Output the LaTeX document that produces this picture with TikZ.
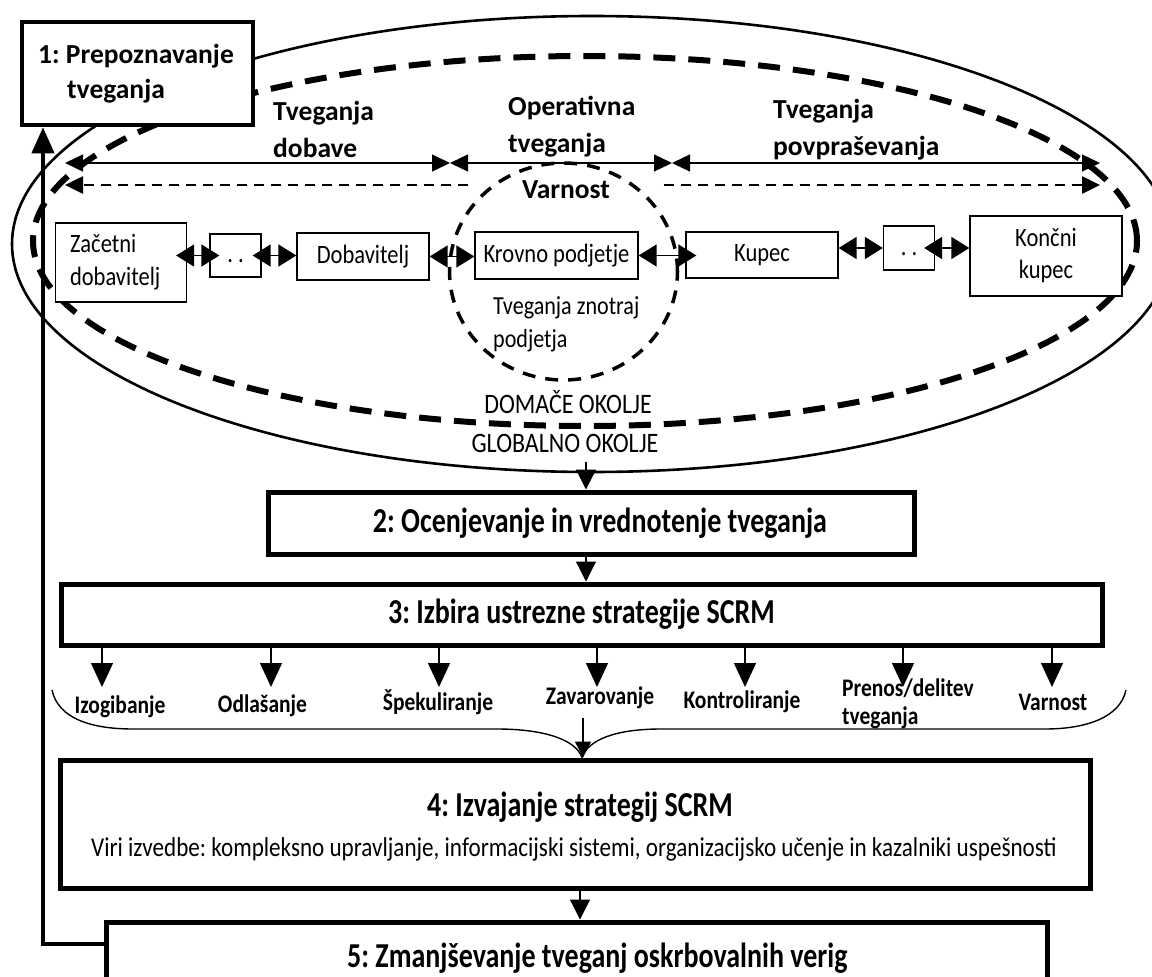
\documentclass[tikz,border=0pt]{standalone}
\usepackage{fontspec}
\setmainfont{Carlito}
\newfontfamily\tallfont{Carlito}[FakeStretch=0.85]
\newfontfamily\titlefont{Carlito}[FakeStretch=0.8]
\usetikzlibrary{arrows.meta,shapes.geometric}
\begin{document}
\frenchspacing
\begin{tikzpicture}[x=1pt,y=-1pt,
  heavybox/.style={draw,line width=5pt,fill=white,inner sep=0pt},
  chainbox/.style={draw,line width=1.3pt,fill=white,inner sep=0pt,font=\tallfont\fontsize{26.5}{33}\selectfont},
  risklabel/.style={font=\fontsize{27.5}{37}\selectfont\bfseries,inner sep=0pt,align=left},
  steptitle/.style={font=\titlefont\fontsize{35}{40}\selectfont\bfseries,inner sep=0pt},
  plaintext/.style={font=\tallfont\fontsize{26}{33}\selectfont,inner sep=0pt,align=left},
  envlabel/.style={font=\tallfont\fontsize{28.2}{30}\selectfont,inner sep=0pt},
  stratlabel/.style={font=\tallfont\fontsize{25.3}{28}\selectfont\bfseries,inner sep=0pt,align=left},
  flowtip/.tip={Triangle[length=18pt,width=17pt]},
  chaintip/.tip={Triangle[length=18pt,width=22pt]},
  flowline/.style={line width=1.3pt,{flowtip}-{flowtip}},
  dashline/.style={line width=2.6pt,dash pattern=on 10pt off 7pt,-{flowtip}},
  chainarrow/.style={line width=1.5pt,{chaintip}-{chaintip}},
  varrow/.style={line width=1.3pt,-{Triangle[length=20pt,width=20pt]}},
  stratarrow/.style={line width=1.3pt,-{Triangle[length=24pt,width=22pt]}},
  bracket/.style={line width=1.4pt}
]
\useasboundingbox (0,0) rectangle (1152,977);

% surrounding environments and the focal firm
\node[draw,line width=2.6pt,ellipse,inner sep=0pt,minimum width=1160pt,minimum height=456pt] (world) at (592,244) {};
\node[draw,line width=6pt,dash pattern=on 22pt off 13pt,ellipse,inner sep=0pt,minimum width=1104pt,minimum height=370pt] (home) at (585,241) {};
\node[draw,line width=3.5pt,dash pattern=on 13pt off 10pt,ellipse,inner sep=0pt,minimum width=228pt,minimum height=217pt] (firm) at (563.5,271.5) {};

% risk categories along the chain
\node[risklabel,anchor=west] (tdob) at (273,129) {Tveganja\\dobave};
\node[risklabel,anchor=west] (toper) at (508,127) {Operativna\\tveganja};
\node[risklabel,anchor=west] (tpov) at (773,130) {Tveganja\\povpraševanja};
\node[risklabel,minimum width=195pt] (varn) at (566,190) {Varnost};

\coordinate (sL) at (65,163);
\coordinate (s1) at (450,163);
\coordinate (s2) at (672,163);
\coordinate (sR) at (1100,163);
\draw[flowline] (sL) -- (s1);
\draw[flowline] (s1) -- (s2);
\draw[flowline] (s2) -- (sR);

\coordinate (dL) at (65,185);
\coordinate (dR) at (1100,185);
\draw[dashline] (varn.west |- dL) -- (dL);
\draw[dashline] (varn.east |- dR) -- (dR);

% supply chain members
\node[chainbox,minimum height=79pt,text width=102pt,inner xsep=14.5pt,align=left] (zd) at (121,262.5) {Začetni\\dobavitelj};
\node[chainbox,minimum width=51pt,minimum height=43pt,text height=14pt,text depth=0pt] (d1) at (235.5,255.5) {. .};
\node[chainbox,minimum width=132pt,minimum height=47pt] (dob) at (363,256.5) {Dobavitelj};
\node[chainbox,minimum width=163pt,minimum height=47pt] (kp) at (556.5,255.5) {Krovno podjetje};
\node[chainbox,minimum width=152pt,minimum height=46pt] (kup) at (762,255) {Kupec};
\node[chainbox,minimum width=51pt,minimum height=44pt,text height=14pt,text depth=0pt] (d2) at (909,248) {. .};
\node[chainbox,minimum width=152pt,minimum height=80pt,align=center,font=\tallfont\fontsize{26.5}{32}\selectfont] (kk) at (1046,256) {Končni\\kupec};

\draw[chainarrow,shorten <=-11pt,shorten >=-10pt] (zd.east |- d1) -- (d1.west);
\draw[chainarrow,shorten <=-9pt] (d1.east) -- (dob.west |- d1);
\draw[chainarrow] (dob.east) -- (kp.west |- dob);
\draw[chainarrow,shorten >=-11pt] (kp.east) -- (kup.west |- kp);
\draw[chainarrow] (kup.east |- d2) -- (d2.west);
\draw[chainarrow,shorten <=-11pt] (d2.east) -- (kk.west |- d2);

\node[plaintext,anchor=west] (inside) at (493,324) {Tveganja znotraj\\podjetja};
\node[envlabel] (domace) at (568,402) {DOMAČE OKOLJE};
\node[envlabel] (global) at (565,443) {GLOBALNO OKOLJE};

% step 1
\node[heavybox,line width=4.5pt,minimum width=231pt,minimum height=103pt] (b1) at (137.5,73.5) {};
\node[risklabel,font=\fontsize{27.5}{35}\selectfont\bfseries,anchor=west] (b1t) at (38,74) {1: Prepoznavanje\\\hspace*{29pt}tveganja};

% steps 2 to 5
\node[heavybox,minimum width=646pt,minimum height=62pt,steptitle] (b2) at (591,523) {\hspace*{18pt}2: Ocenjevanje in vrednotenje tveganja};
\node[heavybox,minimum width=1041pt,minimum height=61pt,steptitle] (b3) at (581.5,614.5) {3: Izbira ustrezne strategije SCRM};
\node[heavybox,minimum width=1030pt,minimum height=128pt] (b4) at (575,824) {};
\node[steptitle] (b4t) at (580,807) {4: Izvajanje strategij SCRM};
\node[font=\tallfont\fontsize{27.2}{30}\selectfont,inner sep=0pt,anchor=west] (b4s) at (91,849) {Viri izvedbe: kompleksno upravljanje, informacijski sistemi, organizacijsko učenje in kazalniki uspešnosti};
\node[heavybox,minimum width=941pt,minimum height=76pt] (b5) at (576.5,960) {};
\node[steptitle,anchor=west] (b5t) at (347,958) {5: Zmanjševanje tveganj oskrbovalnih verig};

% vertical flow
\coordinate (ax) at (586,462);
\draw[varrow] (ax) -- (ax |- b2.north);
\draw[varrow] (b2.south -| ax) -- (b3.north -| ax);
\coordinate (cx) at (580,0);
\draw[varrow] (b4.south -| cx) -- (b5.north -| cx);

% strategies
\foreach \x [count=\i] in {102,271,439,597,745,903,1052} {
  \coordinate (st\i) at (\x,687);
  \draw[stratarrow] (b3.south -| st\i) -- (st\i);
}
\node[stratlabel] (s-izo) at (120,707) {Izogibanje};
\node[stratlabel] (s-odl) at (262.5,706) {Odlašanje};
\node[stratlabel] (s-spe) at (438,702) {Špekuliranje};
\node[stratlabel] (s-zav) at (600,698) {Zavarovanje};
\node[stratlabel] (s-kon) at (742,702) {Kontroliranje};
\node[stratlabel,anchor=west] (s-pre) at (842,704) {Prenos/delitev\\tveganja};
\node[stratlabel] (s-var) at (1053,702) {Varnost};

% brace gathering the strategies
\coordinate (bx) at (582,0);
\coordinate (bm) at (b4.north -| bx);
\draw[bracket] (52,690) .. controls (58,718) and (90,729) .. (133,729) -- (497,729) .. controls (545,729) and (576,740) .. (bm);
\draw[bracket] (1126,690) .. controls (1120,718) and (1085,729) .. (1045,729) -- (661,729) .. controls (615,729) and (588,740) .. (bm);
\coordinate (zx) at (583,718);
\draw[line width=1.3pt,-{Triangle[length=16pt,width=16pt]}] (zx) -- (zx |- b4.north);

% feedback to step 1
\coordinate (fb) at (43,944);
\draw[line width=4pt,-{Triangle[length=26pt,width=22pt]}] (b5.west |- fb) -- (fb) -- (fb |- b1.south);
\end{tikzpicture}
\end{document}
